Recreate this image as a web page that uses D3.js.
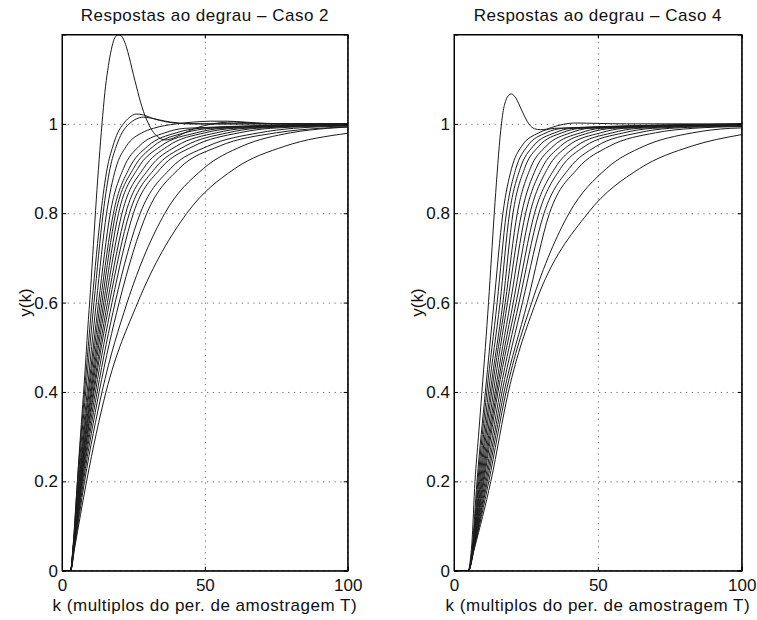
<!DOCTYPE html>
<html>
<head>
<meta charset="utf-8">
<script src="https://cdn.jsdelivr.net/npm/d3@7/dist/d3.min.js"></script>
<style>
  html, body { margin: 0; padding: 0; background: #fff; }
  svg { display: block; }
  text { font-family: "Liberation Sans", Arial, Helvetica, sans-serif; fill: #111; }
</style>
</head>
<body>
<svg id="chart" width="757" height="620"></svg>
<script>
// Axis ticks shared by both panels
const kTicks = [0, 50, 100];
const yTicks = [0, 0.2, 0.4, 0.6, 0.8, 1];

// Response levels at which the monotone curves are sampled
const levels = [0.05, 0.2, 0.4, 0.6, 0.8, 0.9, 0.95, 0.98, 0.99];

// ---- Caso 2 ----
const caso2Delay = 3;
// k at which each monotone response reaches each level
const caso2Cross = [
  [3.9, 6.0, 9.2, 12.8, 16.9, 21.5, 27, 36, 43],
  [3.9, 6.1, 9.5, 13.4, 18.0, 23.5, 30, 40, 48],
  [4.0, 6.3, 9.9, 14.0, 18.8, 25, 32, 43, 52],
  [4.0, 6.4, 10.2, 14.6, 19.8, 26.5, 34.5, 47, 56],
  [4.0, 6.5, 10.5, 15.2, 21.0, 28.5, 37, 50, 60],
  [4.1, 6.7, 10.9, 15.9, 22.3, 30.5, 40, 54, 64],
  [4.1, 6.8, 11.2, 16.6, 23.6, 32.5, 43, 58, 68],
  [4.1, 7.0, 11.7, 17.5, 25.0, 34.5, 46, 62, 73],
  [4.2, 7.2, 12.3, 18.6, 27.4, 38, 51, 69, 81],
  [4.2, 7.5, 13.0, 20.0, 29.7, 41, 55, 75, 90],
  [4.3, 7.9, 14.0, 22.8, 36.0, 49.5, 63, 80, 93],
  [4.4, 8.6, 15.4, 26.5, 43.7, 60.5, 78]
];
// value of each monotone response at k = 100
const caso2End = [0.9995, 0.9995, 0.999, 0.999, 0.998, 0.998, 0.997, 0.996, 0.995, 0.993, 0.993, 0.979];
// responses with overshoot
const caso2Osc = [
  { k: [0, 3, 3.5, 4, 5, 6, 7, 8, 9, 10, 11, 12, 13, 14, 15, 16, 17, 18, 19, 20, 21, 22, 23, 24, 25, 26, 27, 28, 29, 30, 31, 32, 34, 36, 38, 40, 44, 48, 52, 56, 60, 66, 75, 100],
    y: [0, 0, 0.02, 0.06, 0.16, 0.26, 0.35, 0.44, 0.54, 0.63, 0.73, 0.83, 0.92, 1.0, 1.07, 1.12, 1.158, 1.185, 1.197, 1.199, 1.195, 1.182, 1.162, 1.137, 1.11, 1.085, 1.06, 1.038, 1.019, 1.004, 0.991, 0.981, 0.969, 0.964, 0.966, 0.971, 0.983, 0.993, 0.999, 1.003, 1.004, 1.002, 1.0, 1.0] },
  { k: [0, 3, 3.8, 5.4, 7.9, 10.5, 13.6, 15.8, 17.8, 19.5, 21.5, 23.5, 26, 28.5, 31, 34, 37, 41, 45, 55, 100],
    y: [0, 0, 0.05, 0.2, 0.4, 0.6, 0.8, 0.9, 0.95, 0.98, 1.0, 1.014, 1.022, 1.02, 1.014, 1.008, 1.004, 1.001, 1.0, 1.0, 1.0] },
  { k: [0, 3, 3.9, 5.6, 8.3, 11.2, 14.4, 16.8, 19, 21, 23.5, 26, 28.5, 31, 34, 38, 43, 50, 100],
    y: [0, 0, 0.05, 0.2, 0.4, 0.6, 0.8, 0.9, 0.95, 0.98, 1.0, 1.011, 1.015, 1.013, 1.009, 1.004, 1.001, 1.0, 1.0] },
  { k: [0, 3, 3.9, 5.8, 8.8, 12.0, 15.6, 18.8, 22.5, 28, 32, 40, 46, 52, 58, 64, 72, 85, 100],
    y: [0, 0, 0.05, 0.2, 0.4, 0.6, 0.8, 0.9, 0.95, 0.98, 0.99, 1.0, 1.004, 1.006, 1.006, 1.004, 1.001, 1.0, 1.0] }
];

// ---- Caso 4 ----
const caso4Delay = 5;
const caso4Cross = [
  [6.3, 8.0, 10.9, 13.9, 17.0, 20.0, 23.5, 29.5, 35],
  [6.4, 8.3, 11.4, 15.0, 18.2, 21.5, 25.5, 32, 38],
  [6.5, 8.6, 12.0, 16.0, 19.3, 23, 27.5, 35, 41],
  [6.5, 8.9, 12.6, 17.0, 20.5, 24.5, 29.5, 37.5, 44],
  [6.6, 9.2, 13.1, 17.8, 22.0, 26.5, 32, 40.5, 47],
  [6.6, 9.5, 13.7, 18.6, 23.5, 28.5, 34.5, 44, 51],
  [6.7, 9.8, 14.3, 19.6, 24.9, 30.5, 37, 47, 55],
  [6.7, 10.1, 14.8, 20.6, 26.4, 32.5, 39.5, 51, 59],
  [6.8, 10.4, 15.3, 21.6, 28.0, 35, 42.5, 55, 64],
  [6.8, 10.8, 16.0, 22.6, 29.5, 37, 45.5, 59, 69],
  [6.9, 11.2, 16.7, 23.8, 31.3, 40, 49.5, 64, 75],
  [6.9, 11.6, 17.4, 25.5, 33.2, 43, 54, 70, 83],
  [7.0, 12.1, 18.1, 27.0, 40.0, 53, 66, 83, 96],
  [7.1, 12.8, 18.9, 28.4, 46.5, 64.5, 82.5]
];
const caso4End = [0.9995, 0.9995, 0.9995, 0.999, 0.999, 0.999, 0.998, 0.998, 0.997, 0.996, 0.995, 0.994, 0.991, 0.976];
const caso4Osc = [
  { k: [0, 5, 5.6, 6.2, 7.3, 8.5, 9.7, 10.9, 12, 13, 14, 15, 16, 16.5, 17, 18, 19, 20, 21, 22, 23, 24, 25, 26, 27, 28, 30, 32, 34, 36, 38, 42, 50, 60, 100],
    y: [0, 0, 0.02, 0.06, 0.2, 0.3, 0.4, 0.5, 0.6, 0.7, 0.8, 0.89, 0.97, 1.0, 1.025, 1.052, 1.064, 1.067, 1.062, 1.052, 1.038, 1.024, 1.011, 1.0, 0.993, 0.989, 0.987, 0.988, 0.992, 0.996, 0.999, 1.002, 1.001, 1.0, 1.0] }
];

const panels = [
  { title: "Respostas ao degrau \u2013 Caso 2", x0: 62, x1: 347.7, delay: caso2Delay, cross: caso2Cross, end: caso2End, osc: caso2Osc },
  { title: "Respostas ao degrau \u2013 Caso 4", x0: 454, x1: 741.7, delay: caso4Delay, cross: caso4Cross, end: caso4End, osc: caso4Osc }
];

const yTop = 34.5, yBottom = 570.7;
const svg = d3.select("#chart");
svg.append("rect").attr("width", 757).attr("height", 620).attr("fill", "#fff");

const fontSize = 17;

panels.forEach((p, pi) => {
  const x = d3.scaleLinear().domain([0, 100]).range([p.x0, p.x1]);
  const y = d3.scaleLinear().domain([0, 1.2]).range([yBottom, yTop]);
  const w = p.x1 - p.x0, h = yBottom - yTop;
  const g = svg.append("g");

  // dotted grid
  const gridX = g.append("g").attr("transform", `translate(0,${yBottom})`)
    .call(d3.axisBottom(x).tickValues(kTicks).tickSize(-h).tickFormat(""));
  const gridY = g.append("g").attr("transform", `translate(${p.x0},0)`)
    .call(d3.axisLeft(y).tickValues(yTicks).tickSize(-w).tickFormat(""));
  [gridX, gridY].forEach(gg => {
    gg.select(".domain").remove();
    gg.selectAll("line").attr("stroke", "#444").attr("stroke-width", 0.8)
      .attr("stroke-dasharray", "1.2,4.6");
  });

  // response curves
  const clipId = "clip" + pi;
  svg.append("clipPath").attr("id", clipId).append("rect")
    .attr("x", p.x0).attr("y", yTop - 1).attr("width", w).attr("height", h + 1);
  const line = d3.line().x(d => x(d[0])).y(d => y(d[1])).curve(d3.curveMonotoneX);
  const curves = g.append("g").attr("clip-path", `url(#${clipId})`);

  p.cross.forEach((ks, i) => {
    const pts = [[0, 0], [p.delay, 0]];
    ks.forEach((k, j) => pts.push([k, levels[j]]));
    pts.push([100, p.end[i]]);
    curves.append("path").attr("d", line(pts))
      .attr("fill", "none").attr("stroke", "#1c1c1c").attr("stroke-width", 1);
  });
  p.osc.forEach(c => {
    const pts = c.k.map((k, j) => [k, c.y[j]]);
    curves.append("path").attr("d", line(pts))
      .attr("fill", "none").attr("stroke", "#1c1c1c").attr("stroke-width", 1);
  });

  // axes with inward ticks on all four sides
  const fmt = d => String(d);
  const bottom = g.append("g").attr("transform", `translate(0,${yBottom})`)
    .call(d3.axisBottom(x).tickValues(kTicks).tickSize(-4).tickPadding(8).tickFormat(fmt));
  const left = g.append("g").attr("transform", `translate(${p.x0},0)`)
    .call(d3.axisLeft(y).tickValues(yTicks).tickSize(-4).tickPadding(4).tickFormat(fmt));
  const top = g.append("g").attr("transform", `translate(0,${yTop})`)
    .call(d3.axisTop(x).tickValues(kTicks).tickSize(-4).tickFormat(""));
  const right = g.append("g").attr("transform", `translate(${p.x1},0)`)
    .call(d3.axisRight(y).tickValues(yTicks).tickSize(-4).tickFormat(""));
  [bottom, left, top, right].forEach(a => {
    a.select(".domain").attr("stroke", "#000").attr("stroke-width", 1);
    a.selectAll(".tick line").attr("stroke", "#000");
    a.selectAll("text").attr("font-size", fontSize).attr("fill", "#111")
      .attr("font-family", "Liberation Sans, Arial, sans-serif");
  });

  // frame
  g.append("rect").attr("x", p.x0).attr("y", yTop).attr("width", w).attr("height", h)
    .attr("fill", "none").attr("stroke", "#000").attr("stroke-width", 1);

  const cx = (p.x0 + p.x1) / 2;
  g.append("text").attr("x", cx).attr("y", 21).attr("text-anchor", "middle")
    .attr("font-size", fontSize).attr("letter-spacing", "0.5px").text(p.title);
  g.append("text").attr("x", cx).attr("y", 611).attr("text-anchor", "middle")
    .attr("font-size", fontSize).attr("letter-spacing", "0.5px")
    .text("k (multiplos do per. de amostragem T)");
  g.append("text").attr("transform", `translate(${p.x0 - 31},${(yTop + yBottom) / 2}) rotate(-90)`)
    .attr("text-anchor", "middle").attr("font-size", fontSize).text("y(k)");
});
</script>
</body>
</html>
